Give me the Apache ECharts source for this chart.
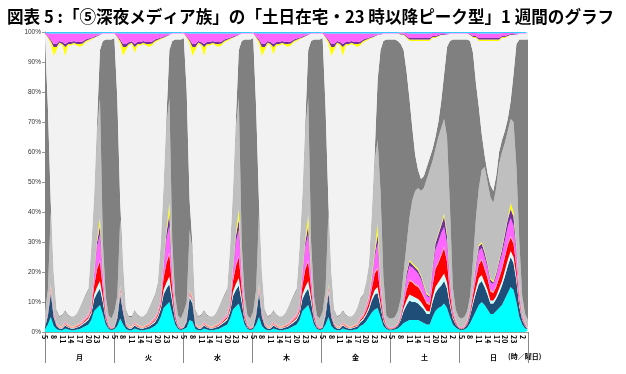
<!DOCTYPE html>
<html><head><meta charset="utf-8">
<script src="https://cdn.jsdelivr.net/npm/echarts/dist/echarts.min.js"></script>
<style>html,body{margin:0;padding:0;background:#fff}#c{width:626px;height:374px}</style>
</head><body><div id="c"></div>
<script>
const titleText = '図表 5 :「⑤深夜メディア族」の「土日在宅・23 時以降ピーク型」1 週間のグラフ';
const days = ['月','火','水','木','金','土','日'];
const hours = ['5','6','7','8','9','10','11','12','13','14','15','16','17','18','19','20','21','22','23','0','1','2','3','4'];
const unitLabel = '(時／曜日)';

// at home, media layers (bottom -> top)
const homeCyan = [
1,2.5,5,2,1,0.6,0.6,1.2,0.8,0.6,0.6,0.8,1,1.5,2,2.5,4,7,8,9,6,2.5,1,0.6,
1,2,4.5,2.5,1,0.6,0.6,1.2,0.8,0.6,0.6,0.8,1,1.5,2,3,5,8,9,10,6,2.5,1,0.6,
1,1.5,4,3.5,1,0.6,0.6,1.2,0.8,0.6,0.6,0.8,1,1.5,2,2.5,4.5,7.5,8.5,9.5,6,2.5,1,0.6,
1,2.5,5,2,1,0.6,0.6,1.2,0.8,0.6,0.6,0.8,1,1.5,2,2.5,4,7,8,9,6,2.5,1,0.6,
1,2.5,5,2,1,0.6,0.6,1.2,0.8,0.6,0.6,0.8,1,2,2.5,3.5,5,6.5,7.5,8,5,2,1,0.6,
0.6,0.8,1.2,2,3,3.5,4,4,4,4,3.5,3,2.5,2.5,5,7,8,8.5,9.5,8,5,2.5,1.5,0.8,
0.6,0.8,1.5,3,5,7,9,10,9,7.5,6,6,7,8,9,11,13,15,14,10,5,2.5,1.2,0.6];
const homeNavy = [
0.5,3,8,3,1,0.6,0.6,1,0.7,0.6,0.6,0.7,0.8,1,1.2,1.5,2,4,5,5.5,4,1.5,0.5,0.3,
0.5,2.5,8,4,1,0.6,0.6,1,0.7,0.6,0.6,0.7,0.8,1,1.2,1.8,2.5,4.5,5.5,6,4,1.5,0.5,0.3,
0.5,2,7.5,6,1,0.6,0.6,1,0.7,0.6,0.6,0.7,0.8,1,1.2,1.5,2.2,4.5,5.5,6,4,1.5,0.5,0.3,
0.5,3,8,3,1,0.6,0.6,1,0.7,0.6,0.6,0.7,0.8,1,1.2,1.5,2,4,5,5.5,4,1.5,0.5,0.3,
0.5,3,8,3,1,0.6,0.6,1,0.7,0.6,0.6,0.7,0.8,1.2,1.5,2,2.5,4,5,5,3.5,1.5,0.5,0.3,
0.3,0.5,0.8,2,4,5.5,6.5,6,6,5.5,5,4.5,3.5,3.5,5,6,6.5,7,7.5,6.5,4,2,1,0.5,
0.3,0.5,1,2.5,4.5,6,7,7,6,5,3.5,3.5,4,5,6.5,7.5,9,10,9,7,3.5,1.5,0.7,0.3];
const homePale = [
0,0.5,1,0.5,0.2,0.2,0.2,0.3,0.2,0.2,0.2,0.2,0.3,0.3,0.4,0.5,0.7,1.5,2,2.5,1.5,0.5,0.2,0.1,
0,0.4,1,0.5,0.2,0.2,0.2,0.3,0.2,0.2,0.2,0.2,0.3,0.3,0.4,0.5,0.8,1.5,2,2.5,1.5,0.5,0.2,0.1,
0,0.3,1,0.7,0.2,0.2,0.2,0.3,0.2,0.2,0.2,0.2,0.3,0.3,0.4,0.5,0.8,1.5,2,2.5,1.5,0.5,0.2,0.1,
0,0.5,1,0.5,0.2,0.2,0.2,0.3,0.2,0.2,0.2,0.2,0.3,0.3,0.4,0.5,0.7,1.5,2,2.5,1.5,0.5,0.2,0.1,
0,0.5,1,0.5,0.2,0.2,0.2,0.3,0.2,0.2,0.2,0.2,0.3,0.4,0.5,0.6,0.8,1,1.5,2,1,0.5,0.2,0.1,
0.1,0.1,0.2,0.4,1,1.5,2,2,1.5,1.5,1.5,1,1,0.8,1.5,2,2,2.5,2.5,2,1,0.5,0.2,0.1,
0.1,0.1,0.2,0.5,1,1.5,2,2,1.5,1.5,1,1,1,1.5,1.5,2,2,2,2,1.5,1,0.3,0.2,0.1];
const homeRed = [
0,0.3,0.5,0.3,0.2,0.1,0.1,0.2,0.2,0.1,0.1,0.2,0.2,0.3,0.4,0.5,0.8,3,6,6.5,3,1,0.3,0.2,
0,0.3,0.5,0.3,0.2,0.1,0.1,0.2,0.2,0.1,0.1,0.2,0.2,0.3,0.4,0.6,1,4,6.5,7.5,3,1,0.3,0.2,
0,0.2,0.5,0.3,0.2,0.1,0.1,0.2,0.2,0.1,0.1,0.2,0.2,0.3,0.4,0.5,1,3.5,6,7,3,1,0.3,0.2,
0,0.3,0.5,0.3,0.2,0.1,0.1,0.2,0.2,0.1,0.1,0.2,0.2,0.3,0.4,0.5,0.8,3,6,6.5,3,1,0.3,0.2,
0,0.3,0.5,0.3,0.2,0.1,0.1,0.2,0.2,0.1,0.1,0.2,0.2,0.4,0.6,1,1.5,3,5.5,6,2.5,1,0.3,0.2,
0.2,0.2,0.3,0.5,1.5,3.5,4.5,4.5,4,4,3.5,3,2.5,2.2,4,6,6.5,7.5,8.5,7,3,1,0.5,0.2,
0.2,0.2,0.5,0.8,2,3.5,4.5,5,4.5,4,3,2.5,3,3.5,4,4.5,5,4.5,4.5,3,1.5,0.5,0.3,0.2];
const homeSalmon = [
0.3,0.2,0.3,0.3,0.3,0.3,0.3,0.4,0.4,0.3,0.3,0.4,0.4,0.5,0.5,0.5,0.5,0.5,0.5,0.5,0.5,0.3,0.2,0.1,
0.3,0.2,0.3,0.3,0.3,0.3,0.3,0.4,0.4,0.3,0.3,0.4,0.4,0.5,0.5,0.5,0.5,0.5,0.5,0.5,0.5,0.3,0.2,0.1,
0.3,0.2,0.3,0.3,0.3,0.3,0.3,0.4,0.4,0.3,0.3,0.4,0.4,0.5,0.5,0.5,0.5,0.5,0.5,0.5,0.5,0.3,0.2,0.1,
0.3,0.2,0.3,0.3,0.3,0.3,0.3,0.4,0.4,0.3,0.3,0.4,0.4,0.5,0.5,0.5,0.5,0.5,0.5,0.5,0.5,0.3,0.2,0.1,
0.3,0.2,0.3,0.3,0.3,0.3,0.3,0.4,0.4,0.3,0.3,0.4,0.4,0.5,0.5,0.5,0.5,0.5,0.5,0.5,0.5,0.3,0.2,0.1,
0.1,0.1,0.2,0.3,0.3,0.5,0.5,0.5,0.5,0.5,0.5,0.5,0.5,0.5,0.5,0.5,0.5,0.5,0.5,0.5,0.5,0.3,0.2,0.1,
0.1,0.1,0.2,0.3,0.5,0.5,0.5,0.5,0.5,0.5,0.5,0.5,0.5,0.5,0.5,0.5,0.5,0.5,0.5,0.5,0.5,0.3,0.2,0.1];
const homeMagenta = [
0,0.3,0.5,0.5,0.2,0.1,0.1,0.2,0.1,0.1,0.1,0.1,0.2,0.3,0.4,0.4,0.8,3,7,8.5,4,1,0.3,0.2,
0,0.3,0.5,0.5,0.2,0.1,0.1,0.2,0.1,0.1,0.1,0.1,0.2,0.3,0.4,0.5,1,3.5,7.5,9,4,1,0.3,0.2,
0,0.2,0.4,0.5,0.2,0.1,0.1,0.2,0.1,0.1,0.1,0.1,0.2,0.3,0.4,0.4,0.8,3,7.5,8.5,4,1,0.3,0.2,
0,0.3,0.5,0.5,0.2,0.1,0.1,0.2,0.1,0.1,0.1,0.1,0.2,0.3,0.4,0.4,0.8,3,7,8.5,4,1,0.3,0.2,
0,0.3,0.5,0.5,0.2,0.1,0.1,0.2,0.1,0.1,0.1,0.1,0.2,0.4,0.3,0.8,1.2,2.5,5,8,3,1,0.3,0.2,
0.2,0.2,0.2,0.6,1.6,3.5,4.5,4.5,4.5,4,3.5,3,2,2,4.5,6,6.5,7,6.5,5.5,3,1.2,0.5,0.2,
0.2,0.2,0.5,0.7,1.5,3,4,3.5,3.5,3,2.5,2.5,3,4,4.5,5,5.5,6,5.5,4,2,0.7,0.3,0.2];
const homePurple = [
0,0.1,0.2,0.2,0.05,0.05,0.05,0.1,0.05,0.05,0.05,0.05,0.05,0.05,0.05,0.05,0.1,0.5,1.5,3,0.5,0.1,0,0,
0,0.1,0.2,0.2,0.05,0.05,0.05,0.1,0.05,0.05,0.05,0.05,0.05,0.05,0.05,0.05,0.1,0.5,2,4,0.5,0.1,0,0,
0,0.1,0.1,0.2,0.05,0.05,0.05,0.1,0.05,0.05,0.05,0.05,0.05,0.05,0.05,0.05,0.1,0.5,2,3.5,0.5,0.1,0,0,
0,0.1,0.2,0.2,0.05,0.05,0.05,0.1,0.05,0.05,0.05,0.05,0.05,0.05,0.05,0.05,0.1,0.5,1.5,3,0.5,0.1,0,0,
0,0.1,0.2,0.2,0.05,0.05,0.05,0.1,0.05,0.05,0.05,0.05,0.05,0.05,0.05,0.3,0.2,0.5,1,3,0.5,0.1,0,0,
0,0.05,0.05,0.1,0.4,1.5,1.5,1,1,1,1,0.5,0.5,0.3,1,2,2.5,2.5,3.5,2.5,1,0.3,0.05,0.05,
0,0.05,0.05,0.1,0.3,1,1.5,1.5,1.5,1,1,0.5,1,1,1.5,2,2.5,3,3,1.5,0.3,0.1,0.05,0];
const homeYellow = [
0,0.1,0.5,0.2,0.05,0.05,0.05,0.1,0.05,0.05,0.05,0.05,0.05,0.05,0.05,0.05,0.1,0.5,1,2.5,0.5,0.1,0,0,
0,0.2,0.5,0.2,0.05,0.05,0.05,0.1,0.05,0.05,0.05,0.05,0.05,0.05,0.05,0.05,0.1,0.5,1,3.5,0.5,0.1,0,0,
0,0,0.2,0.5,0.05,0.05,0.05,0.1,0.05,0.05,0.05,0.05,0.05,0.05,0.05,0.05,0.1,0.5,1,3.5,0.5,0.1,0,0,
0,0.1,0.5,0.2,0.05,0.05,0.05,0.1,0.05,0.05,0.05,0.05,0.05,0.05,0.05,0.05,0.1,0.5,1,3.5,0.5,0.1,0,0,
0,0.1,0.5,0.2,0.05,0.05,0.05,0.1,0.05,0.05,0.05,0.05,0.05,0.05,0.05,0.3,0.3,1,1,3.5,1,0.1,0,0,
0,0.05,0.05,0.1,0.2,0.5,0.5,0.5,0.5,0.5,0.5,0.5,0.5,0.2,0.5,0.5,0.5,0.5,1,1,0.5,0.2,0.05,0.05,
0,0.05,0.05,0.1,0.2,0.5,0.5,0.5,0.5,0.5,0.5,0.5,0.5,0.5,0.5,0.5,0.5,2,1.5,0.5,0.2,0.1,0.05,0];
// at home, no media
const homeNoMedia = [
5,7,24,12,4,3,3.5,3.5,3,3,3,3.5,5,6,7,8,19,25,36,40,10,5,3,3,
5,6,22,13,4,3,3,3.5,3,3,3,3.5,5,6,7,9,18,25,35,35,10,5,3,3,
5,5.5,20,15,4,3,3.5,3.5,3,3,3,3.5,5,6,7,8,18,25,35,37,10,5,3,3,
5,7,24,12,4,3,3.5,3.5,3,3,3,3.5,5,6,7,8,19,25,36,39,10,5,3,3,
5,7,24,12,4,3,3.5,3.5,3,3,3,3.5,5,6,6,7,10,20,30,28,30,12,3,3,
3,3,4,5,8,9,14,21,25,27,28,32,38,42,35,31,32,32,31.5,32,24,7,3.5,3,
3,3,3,4,9,15,19,24,28,27,27,26,28,32,32,30,29,28,30,27,16,6,3,2.5];
// sleep
const sleeping = [
91.2,61,3,1,0.5,0.3,0.3,0.3,0.3,0.2,0.2,0.2,0.2,0.3,0.5,0.5,0.5,1,3,16,67,85.5,92,93,
91.2,66,6,1.5,0.5,0.3,0.3,0.3,0.3,0.2,0.2,0.2,0.2,0.3,0.5,0.5,0.5,1,3,16,67,85.5,92,93,
91.2,70,10,2,0.5,0.3,0.3,0.3,0.3,0.2,0.2,0.2,0.2,0.3,0.5,0.5,0.5,1,3,16,67,85.5,92,93,
91.2,61,3,1,0.5,0.3,0.3,0.3,0.3,0.2,0.2,0.2,0.2,0.3,0.5,0.5,0.5,1,3,16,67,85.5,92,93,
91.2,61,3,1,0.5,0.3,0.3,0.3,0.3,0.2,0.2,0.2,0.2,0.3,0.5,0.5,0.5,1,3,20,47,78.5,92,93,
93,92.5,90,85,74,58,40,24,12,6,4,4,4,4,4,4,5,9,15,30,55,82.5,90,92.5,
93,92.5,90.5,85,69,45,27,12,4,3,4,4,4,4,4,4,4,6,16,41,67.5,85.5,91.5,93.5];
// away, no media
const awayNoMedia = [
1.5,23,53,72,86.5,90.7,89.7,84.7,89.7,90.3,90.8,89.3,86.8,85.2,84,82.5,69,52,28.5,5,2.5,2,2,2,
1.5,20,52.5,69,86.5,90.2,90.7,85.7,89.7,90.3,90.8,89.3,86.8,85.2,84,80.5,68,49,26.5,5,2.5,2,2,2,
1.5,18,52,63,86.5,90.7,89.7,84.7,89.7,90.3,90.8,89.3,86.8,85.2,84,82.5,69,50.5,27.5,5,2.5,2,2,2,
1.5,23,53,72,86.5,90.7,89.7,85.2,89.7,90.3,90.8,89.3,86.8,85.2,84,82.5,69,52,28.5,5,2.5,2,2,2,
1.5,23,53,72,86.5,90.7,89.7,84.7,89.7,90.3,90.8,89.3,86.8,84.2,84,80.5,75,58,38.5,15,5,2.5,2,2,
2,2,2.5,3,5,11,19,29,38,43,46,45,42,39,37,33,28.5,22,13,4,2.5,2,2,2,
2,2,2,2,5,15,22,31,38,44,48,50,45,37,34,31,27.5,22,13,3,2,2,2,2];
// away, media layers
const awayYellow = [
0,0.3,1,3,1,0.5,0.5,3,0.5,0.5,0.4,0.5,1,0.7,0.5,0.4,0.3,0.2,0.1,0,0,0,0,0,
0,0.3,1,3,1,0.5,0.4,2,0.5,0.5,0.4,0.5,1,0.7,0.5,0.4,0.3,0.2,0.1,0,0,0,0,0,
0,0.3,1,3,1,0.5,0.5,3,0.5,0.5,0.4,0.5,1,0.7,0.5,0.4,0.3,0.2,0.1,0,0,0,0,0,
0,0.3,1,3,1,0.5,0.5,2.5,0.5,0.5,0.4,0.5,1,0.7,0.5,0.4,0.3,0.2,0.1,0,0,0,0,0,
0,0.3,1,3,1,0.5,0.5,3,0.5,0.5,0.4,0.5,1,0.7,0.5,0.4,0.3,0.2,0.1,0,0,0,0,0,
0,0,0,0.2,0.2,0.3,0.5,0.5,0.5,0.5,0.5,0.5,0.5,0.5,0.3,0.3,0.2,0.1,0.1,0,0,0,0,0,
0,0,0,0.1,0.3,0.3,0.5,0.5,0.5,0.5,0.5,0.5,0.5,0.5,0.3,0.3,0.2,0.1,0.1,0,0,0,0,0];
const awayPurple = [
0,0.3,0.5,1,1,0.5,0.7,1,0.7,0.7,0.6,0.7,0.7,0.6,0.5,0.4,0.3,0.3,0.2,0.1,0,0,0,0,
0,0.3,0.5,1,1,0.7,0.5,1,0.7,0.7,0.6,0.7,0.7,0.6,0.5,0.4,0.3,0.3,0.2,0.1,0,0,0,0,
0,0.3,0.5,1,1,0.5,0.7,1,0.7,0.7,0.6,0.7,0.7,0.6,0.5,0.4,0.3,0.3,0.2,0.1,0,0,0,0,
0,0.3,0.5,1,1,0.5,0.7,1,0.7,0.7,0.6,0.7,0.7,0.6,0.5,0.4,0.3,0.3,0.2,0.1,0,0,0,0,
0,0.3,0.5,1,1,0.5,0.7,1,0.7,0.7,0.6,0.7,0.7,0.6,0.5,0.4,0.3,0.3,0.2,0.1,0.1,0,0,0,
0,0,0,0.2,0.2,0.4,0.5,0.5,0.5,0.5,0.5,0.5,0.5,0.5,0.4,0.4,0.3,0.2,0.2,0.1,0,0,0,0,
0,0,0,0.2,0.4,0.4,0.5,0.5,0.5,0.5,0.5,0.5,0.5,0.5,0.4,0.4,0.3,0.2,0.2,0.1,0,0,0,0];
const awayMagenta = [
0.3,1,2,3.5,3.5,2.5,2.8,3.5,2.8,2.8,2.5,2.8,2.8,2.7,2,1.7,1.4,1,0.7,0.4,0.2,0.2,0.2,0.2,
0.3,1,2,3.5,3.5,2.8,2.6,3.5,2.8,2.8,2.5,2.8,2.8,2.7,2,1.7,1.4,1,0.7,0.4,0.2,0.2,0.2,0.2,
0.3,1,2,3.5,3.5,2.5,2.8,3.5,2.8,2.8,2.5,2.8,2.8,2.7,2,1.7,1.4,1,0.7,0.4,0.2,0.2,0.2,0.2,
0.3,1,2,3.5,3.5,2.5,2.8,3.5,2.8,2.8,2.5,2.8,2.8,2.7,2,1.7,1.4,1,0.7,0.4,0.2,0.2,0.2,0.2,
0.3,1,2,3.5,3.5,2.5,2.8,3.5,2.8,2.8,2.5,2.8,2.8,2.7,2,1.7,1.4,1,0.7,0.4,0.4,0.2,0.2,0.2,
0.2,0.2,0.2,0.4,0.4,1,1.5,1.5,1.5,1.5,1.5,1.5,1.5,1.5,1,1,0.7,0.4,0.4,0.4,0.2,0.2,0.2,0.2,
0.2,0.2,0.2,0.4,1,1,1.5,1.5,1.5,1.5,1.5,1.5,1.5,1.5,1,1,0.7,0.4,0.4,0.4,0.2,0.2,0.2,0.2];
const awayCyan = [
0.2,0.4,0.5,0.5,0.5,0.5,0.5,0.5,0.5,0.5,0.5,0.5,0.5,0.5,0.5,0.5,0.5,0.5,0.5,0.5,0.3,0.3,0.3,0.3,
0.2,0.4,0.5,0.5,0.5,0.5,0.5,0.5,0.5,0.5,0.5,0.5,0.5,0.5,0.5,0.5,0.5,0.5,0.5,0.5,0.3,0.3,0.3,0.3,
0.2,0.4,0.5,0.5,0.5,0.5,0.5,0.5,0.5,0.5,0.5,0.5,0.5,0.5,0.5,0.5,0.5,0.5,0.5,0.5,0.3,0.3,0.3,0.3,
0.2,0.4,0.5,0.5,0.5,0.5,0.5,0.5,0.5,0.5,0.5,0.5,0.5,0.5,0.5,0.5,0.5,0.5,0.5,0.5,0.3,0.3,0.3,0.3,
0.2,0.4,0.5,0.5,0.5,0.5,0.5,0.5,0.5,0.5,0.5,0.5,0.5,0.5,0.5,0.5,0.5,0.5,0.5,0.5,0.5,0.3,0.3,0.3,
0.3,0.3,0.3,0.2,0.2,0.3,0.5,0.5,0.5,0.5,0.5,0.5,0.5,0.5,0.3,0.3,0.3,0.3,0.3,0.5,0.3,0.3,0.3,0.3,
0.3,0.3,0.3,0.3,0.3,0.3,0.5,0.5,0.5,0.5,0.5,0.5,0.5,0.5,0.3,0.3,0.3,0.3,0.3,0.5,0.3,0.3,0.3,0.3];

const layers = [
  ['在宅・メディア1', homeCyan, '#00FFFF'],
  ['在宅・メディア2', homeNavy, '#1F4E79'],
  ['在宅・メディア3', homePale, '#CCFFFF'],
  ['在宅・メディア4', homeRed, '#FF0000'],
  ['在宅・メディア5', homeSalmon, '#FF9F8F'],
  ['在宅・メディア6', homeMagenta, '#FF66FF'],
  ['在宅・メディア7', homePurple, '#7030A0'],
  ['在宅・メディア8', homeYellow, '#FFFF00'],
  ['在宅・メディアなし', homeNoMedia, '#BFBFBF'],
  ['睡眠', sleeping, '#808080'],
  ['外出・メディアなし', awayNoMedia, '#F2F2F2'],
  ['外出・メディア1', awayYellow, '#FFFF00'],
  ['外出・メディア2', awayPurple, '#7030A0'],
  ['外出・メディア3', awayMagenta, '#FF66FF'],
  ['外出・メディア4', awayCyan, '#33CCFF']
];

const cats = [];
days.forEach(d => hours.forEach(h => cats.push(d + '-' + h)));

const chart = echarts.init(document.getElementById('c'), null, {renderer: 'canvas'});
const jp = "'Noto Sans CJK JP', 'Noto Sans', sans-serif";
chart.setOption({
  animation: false,
  backgroundColor: '#fff',
  title: {
    text: titleText, left: 2, top: 3,
    textStyle: {fontSize: 16.6, fontWeight: 'bold', color: '#000', fontFamily: jp}
  },
  grid: {left: 45, right: 98, top: 32, bottom: 42},
  xAxis: [{
    type: 'category', data: cats, boundaryGap: false,
    axisLine: {show: true, lineStyle: {color: '#999', width: 1}},
    axisTick: {show: false},
    axisLabel: {
      interval: (i) => i % 3 === 0, rotate: -90, fontSize: 7, color: '#000',
      margin: 3, fontFamily: jp, fontWeight: 'bold',
      formatter: (v) => v.split('-')[1]
    },
    splitLine: {show: false}
  }, {
    type: 'category', data: days, boundaryGap: true, position: 'bottom',
    axisLine: {show: false},
    axisTick: {show: true, length: 31, lineStyle: {color: '#888', width: 1}},
    axisLabel: {fontSize: 7, fontWeight: 'bold', color: '#000', margin: 22, fontFamily: jp},
    splitLine: {show: false}
  }],
  yAxis: {
    type: 'value', min: 0, max: 100, interval: 10,
    axisLine: {show: true, lineStyle: {color: '#999'}},
    axisTick: {show: true, length: 3, lineStyle: {color: '#999'}},
    axisLabel: {formatter: '{value}%', fontSize: 6.5, color: '#333', margin: 4},
    splitLine: {show: false}
  },
  graphic: [{
    type: 'text', left: 508, top: 353,
    style: {text: unitLabel, fill: '#000', font: "bold 7px " + jp}
  }],
  series: layers.map(l => ({
    name: l[0], type: 'line', stack: 'all', data: l[1],
    symbol: 'none', showSymbol: false, smooth: false,
    lineStyle: {width: 0}, areaStyle: {color: l[2], opacity: 1},
    itemStyle: {color: l[2]}, emphasis: {disabled: true}
  }))
});
</script></body></html>
